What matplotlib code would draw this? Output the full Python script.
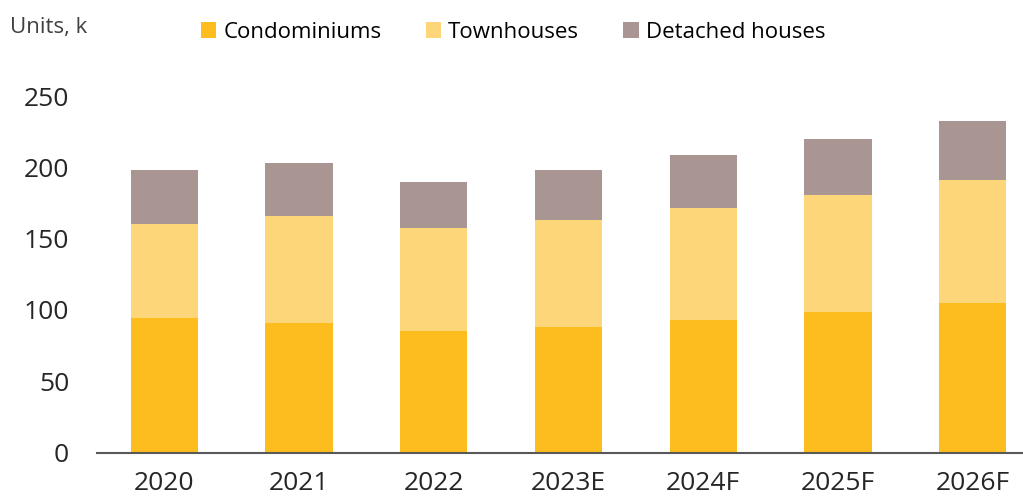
import matplotlib.pyplot as plt
import numpy as np

# Data (thousand units)
years = ["2020", "2021", "2022", "2023E", "2024F", "2025F", "2026F"]
condominiums = [94, 90.5, 85.5, 88, 93, 98.5, 105]
townhouses = [66.5, 75.5, 72, 75, 78.5, 82, 86]
detached = [37.5, 37, 32, 35, 37, 39, 41.5]

c_condo = "#FDBD1F"
c_town = "#FDD679"
c_det = "#A99591"

plt.rcParams["font.family"] = ["Open Sans", "DejaVu Sans"]

fig = plt.figure(figsize=(10.23, 4.99), dpi=100)
# axes runs past the right edge, like the cropped original
ax = fig.add_axes([97 / 1023, 1 - 452.5 / 499, 943 / 1023, (452.5 - 96) / 499])

x = np.arange(len(years))
w = 0.5
condo_arr = np.array(condominiums)
town_arr = np.array(townhouses)
ax.bar(x, condominiums, w, color=c_condo, label="Condominiums")
ax.bar(x, townhouses, w, bottom=condo_arr, color=c_town, label="Townhouses")
ax.bar(x, detached, w, bottom=condo_arr + town_arr, color=c_det, label="Detached houses")

ax.set_xlim(-0.5, len(years) - 0.5)
ax.set_ylim(0, 250)
ax.set_yticks(range(0, 251, 50))
ax.set_xticks(x)
ax.set_xticklabels(years)
ax.tick_params(axis="both", length=0, labelsize=19, colors="#262626")
ax.tick_params(axis="y", pad=20)
ax.tick_params(axis="x", pad=13)

for s in ["top", "right", "left"]:
    ax.spines[s].set_visible(False)
ax.spines["bottom"].set_color("#595959")
ax.spines["bottom"].set_linewidth(1.5)

fig.text(10 / 1023, 1 - 28 / 499, "Units, k", fontsize=16, color="#404040",
         va="center", ha="left")

fig.legend(loc="center", bbox_to_anchor=(513 / 1023, 1 - 32 / 499), ncol=3,
           frameon=False, fontsize=16, handlelength=0.7, handleheight=0.7,
           handletextpad=0.3, columnspacing=2.0)

fig.savefig("out.png", dpi=100)
